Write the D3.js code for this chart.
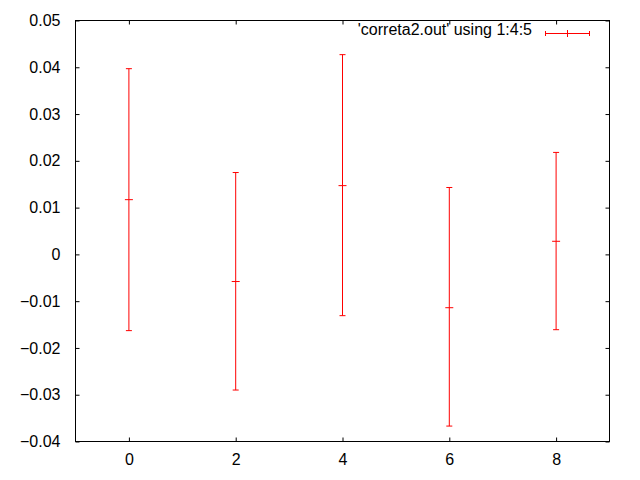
<!DOCTYPE html>
<html>
<head>
<meta charset="utf-8">
<script src="https://cdn.jsdelivr.net/npm/d3@7"></script>
<style>
  body { margin: 0; background: #fff; }
  svg text { font-family: "Liberation Sans", Arial, sans-serif; font-size: 16px; fill: #000; }
</style>
</head>
<body>
<script>
// data ('correta2.out' using 1:4:5)
var xValues = [0, 2, 4, 6, 8];
var yValues = [0.0117, -0.0058, 0.0147, -0.0114, 0.0028];
var yLow = [-0.0163, -0.0290, -0.0131, -0.0367, -0.0161];
var yHigh = [0.0397, 0.0175, 0.0427, 0.0143, 0.0218];
var xTicks = [0, 2, 4, 6, 8];
var yTicks = [-0.04, -0.03, -0.02, -0.01, 0, 0.01, 0.02, 0.03, 0.04, 0.05];
var legendLabel = "'correta2.out' using 1:4:5";

var W = 640, H = 480;
// plot box (half pixels so 1px lines stay crisp)
var box = {left: 75.5, right: 609.5, top: 20.5, bottom: 441.5};
var barColor = "#ff0000";

var x = d3.scaleLinear().domain([-1, 9]).range([box.left, box.right]);
var y = d3.scaleLinear().domain([-0.04, 0.05]).range([box.bottom, box.top]);

var svg = d3.select("body").append("svg")
    .attr("width", W)
    .attr("height", H);

function fmt(d) {
    return d === 0 ? "0" : d3.format(".2f")(d);
}

// bottom axis with labels, ticks pointing inward
var xAxis = d3.axisBottom(x).tickValues(xTicks).tickSizeInner(-4).tickSizeOuter(0)
    .tickPadding(12).tickFormat(d3.format("d"));
var gx = svg.append("g").attr("transform", "translate(0," + box.bottom + ")").call(xAxis);
gx.select(".domain").remove();

// left axis
var yAxis = d3.axisLeft(y).tickValues(yTicks).tickSizeInner(-4).tickSizeOuter(0)
    .tickPadding(15).tickFormat(fmt);
var gy = svg.append("g").attr("transform", "translate(" + box.left + ",0)").call(yAxis);
gy.select(".domain").remove();

// mirrored ticks on top and right
var gt = svg.append("g").attr("transform", "translate(0," + box.top + ")")
    .call(d3.axisTop(x).tickValues(xTicks).tickSizeInner(-4).tickSizeOuter(0).tickFormat(""));
gt.select(".domain").remove();
var gr = svg.append("g").attr("transform", "translate(" + box.right + ",0)")
    .call(d3.axisRight(y).tickValues(yTicks).tickSizeInner(-4).tickSizeOuter(0).tickFormat(""));
gr.select(".domain").remove();

svg.selectAll(".tick text")
    .style("font-family", "'Liberation Sans', Arial, sans-serif")
    .style("font-size", "16px");

// border
svg.append("rect")
    .attr("x", box.left).attr("y", box.top)
    .attr("width", box.right - box.left).attr("height", box.bottom - box.top)
    .attr("fill", "none").attr("stroke", "#000").attr("stroke-width", 1);

// error bars
var data = xValues.map(function (d, i) {
    return {x: d, y: yValues[i], lo: yLow[i], hi: yHigh[i]};
});

var bars = svg.append("g").attr("stroke", barColor).attr("stroke-width", 1).attr("fill", "none");
var bar = bars.selectAll("g").data(data).enter().append("g");

bar.append("line")
    .attr("x1", function (d) { return x(d.x); })
    .attr("x2", function (d) { return x(d.x); })
    .attr("y1", function (d) { return y(d.lo); })
    .attr("y2", function (d) { return y(d.hi); });

["lo", "hi"].forEach(function (k) {
    bar.append("line")
        .attr("x1", function (d) { return x(d.x) - 3; })
        .attr("x2", function (d) { return x(d.x) + 3; })
        .attr("y1", function (d) { return y(d[k]); })
        .attr("y2", function (d) { return y(d[k]); });
});

// centre mark
bar.append("line")
    .attr("x1", function (d) { return x(d.x) - 4; })
    .attr("x2", function (d) { return x(d.x) + 4; })
    .attr("y1", function (d) { return y(d.y); })
    .attr("y2", function (d) { return y(d.y); });

// legend
var ly = 33;
svg.append("text")
    .attr("x", 532).attr("y", ly)
    .attr("dy", "0.1em")
    .attr("text-anchor", "end")
    .text(legendLabel);

var lg = svg.append("g").attr("stroke", barColor).attr("stroke-width", 1);
lg.append("line").attr("x1", 545.5).attr("x2", 589.5).attr("y1", ly + 0.5).attr("y2", ly + 0.5);
[545.5, 589.5].forEach(function (px) {
    lg.append("line").attr("x1", px).attr("x2", px).attr("y1", ly - 2).attr("y2", ly + 3);
});
lg.append("line").attr("x1", 567.5).attr("x2", 567.5).attr("y1", ly - 3).attr("y2", ly + 4);
</script>
</body>
</html>
